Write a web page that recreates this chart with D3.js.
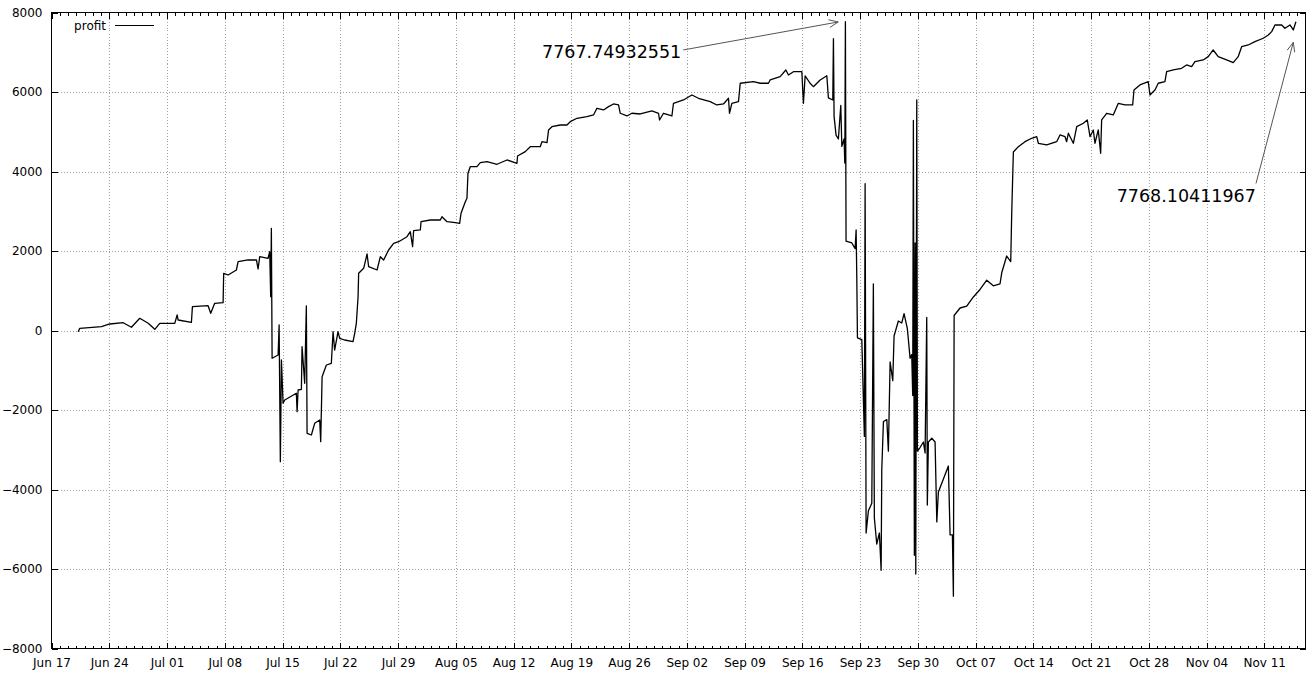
<!DOCTYPE html>
<meta charset="utf-8">
<style>
body { margin: 0; background: #fff; }
text { font-family: "DejaVu Sans", sans-serif; fill: #000; }
.grid line { stroke: #a0a0a0; stroke-width: 1; stroke-dasharray: 1,2; shape-rendering: crispEdges; }
.tick line { stroke: #000; shape-rendering: crispEdges; }
.domain { display: none; }
.profit { fill: none; stroke: #000; stroke-width: 1.3; stroke-linejoin: round; }
.arrow { stroke: #555; stroke-width: 1; fill: none; }
</style>
<svg width="1316" height="676"></svg>
<script src="https://cdn.jsdelivr.net/npm/d3@7"></script>
<script>

// days since Jun 17 (2012) and profit
var days = [3.23,3.43,6.06,7.06,8.69,9.69,10.70,11.72,12.52,13.12,14.94,15.23,15.35,16.96,17.08,18.98,19.30,19.78,20.80,20.87,
  21.41,22.41,22.62,23.83,24.84,25.04,25.24,26.25,26.45,26.57,26.65,26.74,27.47,27.59,27.74,27.87,28.07,28.27,29.68,29.77,
  29.89,30.29,30.37,30.69,30.89,30.98,31.50,31.90,32.51,32.63,32.80,33.32,33.92,34.13,34.32,34.73,34.93,35.53,36.55,36.75,
  36.95,37.16,37.23,37.84,38.25,38.44,39.46,39.86,40.26,40.86,41.47,42.08,43.09,43.49,43.77,43.89,44.71,44.79,45.92,47.13,
  47.33,47.94,48.95,49.47,49.64,50.16,50.36,50.48,50.76,51.57,51.97,52.79,54.00,55.21,56.42,56.49,57.43,58.03,59.24,59.45,
  60.06,60.25,60.66,61.67,62.48,62.88,63.69,64.90,65.70,66.11,66.91,67.52,68.12,68.73,68.94,69.75,70.35,71.36,72.78,73.58,
  73.70,74.18,75.20,75.39,76.60,77.62,78.42,79.84,80.65,81.45,82.06,82.18,82.47,83.27,83.48,85.09,85.90,86.90,87.11,88.32,
  89.01,89.33,89.93,90.95,91.14,91.35,91.95,92.35,93.17,93.98,94.17,94.70,94.78,94.86,95.10,95.38,95.67,95.80,96.07,96.16,
  96.23,96.31,97.01,97.41,97.53,97.61,97.69,98.22,98.41,98.53,98.62,98.74,99.02,99.43,99.62,99.74,100.03,100.35,100.56,100.64,
  100.84,101.25,101.44,101.65,101.97,102.13,102.65,103.06,103.34,103.74,104.07,104.27,104.39,104.47,104.59,104.68,104.76,104.88,104.96,105.28,
  105.68,105.89,106.09,106.16,106.29,106.70,107.10,107.31,107.50,108.11,108.71,108.92,109.20,109.32,109.41,110.13,110.94,111.74,112.55,113.36,
  114.16,114.97,115.18,115.78,116.27,116.39,116.59,117.19,118.00,118.81,119.42,119.62,120.63,121.84,122.24,122.85,123.05,123.25,123.86,124.27,
  125.07,125.55,125.88,126.28,126.48,126.88,127.17,127.29,127.90,128.70,129.31,130.12,131.05,131.21,131.93,132.94,133.15,133.75,134.15,134.96,
  135.17,135.97,136.98,137.59,138.20,138.60,139.60,140.21,140.81,141.42,142.43,143.24,143.84,144.26,145.06,145.87,146.88,147.49,147.90,148.30,
  149.11,149.51,150.12,150.52,150.84];

var profit = [-30,55,96,164,196,81,307,181,30,181,181,390,264,206,599,624,433,684,699,1439,
  1396,1522,1731,1774,1774,1547,1857,1817,1983,850,2571,-699,-616,138,-3301,-742,-1832,-1749,-1580,-2043,
  -1497,-1479,-408,-1328,616,-2586,-2629,-2335,-2252,-2798,-1162,-868,-825,-30,-491,-30,-196,-239,-282,-70,
  181,850,1439,1565,1925,1605,1522,1857,1774,2025,2194,2234,2360,2486,2108,2511,2529,2737,2780,2780,
  2863,2737,2712,2697,2949,3241,3326,3955,4121,4121,4222,4247,4182,4290,4207,4390,4499,4624,4624,4750,
  4725,5045,5128,5170,5170,5253,5339,5379,5422,5591,5548,5631,5699,5674,5465,5397,5465,5447,5523,5465,
  5296,5465,5397,5716,5800,5925,5842,5757,5674,5699,5842,5465,5716,5757,6220,6260,6220,6220,6303,6386,
  6554,6428,6511,6511,5716,6403,6220,6134,6303,6408,5850,5799,7344,5379,4914,4818,5661,4632,4818,4214,
  7767.75,2247,2202,2061,2529,1359,-184,-231,-1728,-2664,3696,-5095,-4534,-4348,1170,-4718,-5372,-5095,-6031,-3505,
  -2290,-2242,-3037,-793,-1261,-138,239,189,423,48,-699,-606,-1635,5286,-5656,2202,-6127,5799,-3037,-2944,
  -2805,-3082,330,-4390,-2805,-2710,-2805,-4816,-4063,-3736,-3409,-5143,-5143,-6685,377,566,611,843,1032,1266,
  1125,1170,1452,1874,1734,2949,4491,4624,4750,4836,4876,4710,4667,4750,4919,4876,4750,4962,4710,5128,
  5213,5296,4876,5045,4710,5045,4458,5296,5465,5422,5716,5674,5674,6051,6177,6260,5925,6051,6220,6260,
  6511,6554,6597,6680,6637,6763,6806,6889,7057,6889,6806,6738,6889,7140,7183,7266,7352,7435,7518,7686,
  7686,7603,7686,7561,7768.10411967];

var yTicks = [-8000,-6000,-4000,-2000,0,2000,4000,6000,8000];

// annotations: label, label position (day, value), arrow tail and head (day, value)
var notes = [
  {label: "7767.74932551", at: [76.33, 7010], from: [76.57, 7057], to: [95.36, 7762]},
  {label: "7768.10411967", at: [145.98, 3380], from: [146.0, 3700], to: [150.52, 7250]}
];

var svg = d3.select("svg"),
    pLeft = 51.5, pTop = 12.5, pRight = 1305.5, pBottom = 648.5;

var t0 = Date.UTC(2012, 5, 17);
function day(d) { return new Date(t0 + d * 864e5); }

var x = d3.scaleUtc().domain([new Date(t0), new Date(Date.UTC(2012, 10, 16))]).range([pLeft, pRight]),
    y = d3.scaleLinear().domain([-8000, 8000]).range([pBottom, pTop]);

var weeks = d3.utcSunday.range(new Date(t0), x.domain()[1]),
    alldays = d3.utcDay.range(new Date(t0), x.domain()[1]);

// grid
var grid = svg.append("g").attr("class", "grid");
grid.selectAll(".gx").data(weeks.slice(1)).enter().append("line")
    .attr("x1", function(d) { return Math.round(x(d)) + 0.5; })
    .attr("x2", function(d) { return Math.round(x(d)) + 0.5; })
    .attr("y1", pTop).attr("y2", pBottom);
grid.selectAll(".gy").data(yTicks.slice(1, -1)).enter().append("line")
    .attr("x1", pLeft).attr("x2", pRight)
    .attr("y1", function(d) { return Math.round(y(d)) + 0.5; })
    .attr("y2", function(d) { return Math.round(y(d)) + 0.5; });

// axes (ticks inward, mirrored)
svg.append("g").attr("transform", "translate(0," + pBottom + ")")
    .call(d3.axisBottom(x).tickValues(alldays).tickSize(-3).tickFormat(""));
svg.append("g").attr("transform", "translate(0," + pTop + ")")
    .call(d3.axisTop(x).tickValues(alldays).tickSize(-3).tickFormat(""));
svg.append("g").attr("transform", "translate(0," + pTop + ")")
    .call(d3.axisTop(x).tickValues(weeks).tickSize(-6).tickFormat(""));
svg.append("g").attr("transform", "translate(0," + pBottom + ")")
    .call(d3.axisBottom(x).tickValues(weeks).tickSize(-6).tickPadding(10)
      .tickFormat(d3.utcFormat("%b %d")))
    .selectAll("text").style("font-size", "12px");
svg.append("g").attr("transform", "translate(" + pLeft + ",0)")
    .call(d3.axisLeft(y).tickValues(yTicks).tickSize(-6).tickPadding(9).tickFormat(d3.format("d")))
    .selectAll("text").style("font-size", "12px");
svg.append("g").attr("transform", "translate(" + pRight + ",0)")
    .call(d3.axisRight(y).tickValues(yTicks).tickSize(-6).tickFormat(""));

svg.append("rect")
    .attr("x", pLeft).attr("y", pTop).attr("width", pRight - pLeft).attr("height", pBottom - pTop)
    .attr("fill", "none").attr("stroke", "#000").attr("shape-rendering", "crispEdges");

// profit line
var line = d3.line()
    .x(function(d, i) { return x(day(days[i])); })
    .y(function(d) { return y(d); });
svg.append("path").datum(profit).attr("class", "profit").attr("d", line);

// legend
svg.append("text").attr("x", 106).attr("y", 30).attr("text-anchor", "end")
    .style("font-size", "12px").text("profit");
svg.append("line").attr("x1", 115).attr("x2", 154).attr("y1", 25.5).attr("y2", 25.5)
    .attr("stroke", "#000").attr("stroke-width", 1.2);

// annotations
notes.forEach(function(n) {
  var x1 = x(day(n.from[0])), y1 = y(n.from[1]),
      x2 = x(day(n.to[0])), y2 = y(n.to[1]),
      a = Math.atan2(y2 - y1, x2 - x1), h = 10, s = 0.4;
  svg.append("text").attr("x", x(day(n.at[0]))).attr("y", y(n.at[1]))
      .attr("text-anchor", "end").attr("dy", "0.35em")
      .style("font-size", "17.5px").text(n.label);
  svg.append("path").attr("class", "arrow")
      .attr("d", "M" + x1 + "," + y1 + "L" + x2 + "," + y2 +
        "M" + (x2 - h * Math.cos(a - s)) + "," + (y2 - h * Math.sin(a - s)) +
        "L" + x2 + "," + y2 +
        "L" + (x2 - h * Math.cos(a + s)) + "," + (y2 - h * Math.sin(a + s)));
});

</script>
